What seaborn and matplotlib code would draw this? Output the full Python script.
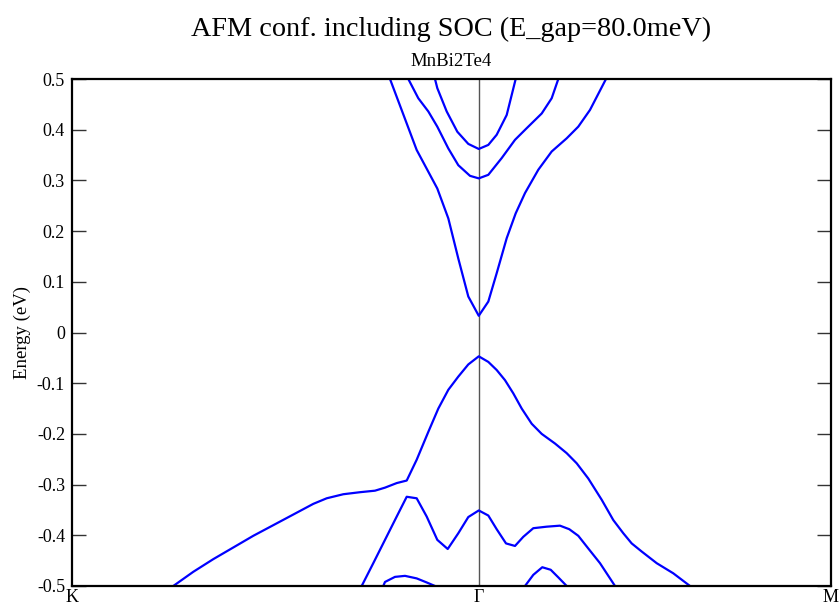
import numpy as np
import pandas as pd
import matplotlib
matplotlib.use("Agg")
import matplotlib.pyplot as plt
import seaborn as sns

# Path K -> Gamma -> M (|GM|/|GK| = sqrt(3)/2)
k_ticks = [0.0, 1.0, 1.866]
k_labels = ["K", "Γ", "M"]

# Conduction bands
c1_k = [0.7818, 0.8474, 0.8981, 0.9252, 0.9497, 0.9743, 1.0, 1.0235, 1.0441, 1.0687,
        1.0908, 1.1137, 1.1464, 1.1793, 1.2162, 1.2447, 1.2735, 1.3128]
c1_e = [0.50, 0.360, 0.284, 0.225, 0.146, 0.071, 0.033, 0.061, 0.117, 0.186,
        0.235, 0.275, 0.321, 0.357, 0.383, 0.406, 0.439, 0.50]

c2_k = [0.8268, 0.8514, 0.8760, 0.8981, 0.9252, 0.9497, 0.9785, 1.0, 1.0235, 1.0564,
        1.0891, 1.1179, 1.1548, 1.1793, 1.1956]
c2_e = [0.50, 0.462, 0.436, 0.406, 0.363, 0.330, 0.309, 0.304, 0.311, 0.344,
        0.380, 0.403, 0.432, 0.462, 0.50]

c3_k = [0.8924, 0.8981, 0.9212, 0.9473, 0.9743, 1.0, 1.0235, 1.0441, 1.0687, 1.0908]
c3_e = [0.50, 0.482, 0.436, 0.396, 0.372, 0.362, 0.370, 0.390, 0.429, 0.50]

# Valence bands
v1_k = [0.2490, 0.2982, 0.3474, 0.3966, 0.4457, 0.4949, 0.5441, 0.5932, 0.6262, 0.6670,
        0.7080, 0.7449, 0.7695, 0.7983, 0.8229, 0.8474, 0.8760, 0.9006, 0.9252, 0.9497,
        0.9743, 1.0, 1.0235, 1.0441, 1.0645, 1.0849, 1.1056, 1.1302, 1.1548, 1.1875,
        1.2162, 1.2408, 1.2693, 1.3023, 1.3308, 1.3554, 1.3760, 1.4006, 1.4375, 1.4783,
        1.5194]
v1_e = [-0.50, -0.472, -0.447, -0.424, -0.401, -0.380, -0.359, -0.338, -0.327, -0.319,
        -0.315, -0.312, -0.306, -0.297, -0.292, -0.251, -0.196, -0.150, -0.113, -0.087,
        -0.063, -0.047, -0.058, -0.074, -0.094, -0.120, -0.150, -0.180, -0.200, -0.219,
        -0.238, -0.258, -0.288, -0.330, -0.370, -0.396, -0.416, -0.432, -0.455, -0.475,
        -0.50]

v2_k = [0.7122, 0.7407, 0.7695, 0.7983, 0.8229, 0.8474, 0.8720, 0.8981, 0.9237, 0.9497,
        0.9743, 1.0, 1.0235, 1.0441, 1.0670, 1.0891, 1.1095, 1.1341, 1.1670, 1.1997,
        1.2226, 1.2447, 1.2693, 1.2981, 1.3350]
v2_e = [-0.50, -0.455, -0.409, -0.363, -0.324, -0.327, -0.363, -0.409, -0.427, -0.396,
        -0.364, -0.351, -0.361, -0.388, -0.416, -0.421, -0.403, -0.386, -0.383, -0.381,
        -0.388, -0.401, -0.426, -0.455, -0.50]

v3_k = [0.7653, 0.7695, 0.7941, 0.8187, 0.8474, 0.8720, 0.8924]
v3_e = [-0.50, -0.492, -0.482, -0.480, -0.485, -0.493, -0.50]

v4_k = [1.1137, 1.1341, 1.1562, 1.1769, 1.1956, 1.2162]
v4_e = [-0.50, -0.478, -0.463, -0.468, -0.483, -0.50]

bands = {"c1": (c1_k, c1_e), "c2": (c2_k, c2_e), "c3": (c3_k, c3_e),
         "v1": (v1_k, v1_e), "v2": (v2_k, v2_e), "v3": (v3_k, v3_e), "v4": (v4_k, v4_e)}
df = pd.concat([pd.DataFrame({"band": name, "k": ks, "E": es})
                for name, (ks, es) in bands.items()], ignore_index=True)

sns.set_style("white")
plt.rcParams["font.family"] = ["Liberation Serif", "DejaVu Serif"]
plt.rcParams.update({"text.color": "black", "axes.labelcolor": "black",
                     "xtick.color": "black", "ytick.color": "black"})

fig = plt.figure(figsize=(8.4, 6.08), dpi=100)
ax_left, ax_w = 72 / 840, 759 / 840
ax = fig.add_axes([ax_left, 22 / 608, ax_w, 507 / 608])

ax.axvline(k_ticks[1], color="#555555", lw=1.0, zorder=1)
sns.lineplot(data=df, x="k", y="E", units="band", estimator=None, sort=False,
             color="#0000ff", lw=1.6, ax=ax, zorder=2)

ax.set_xlim(k_ticks[0], k_ticks[-1])
ax.set_ylim(-0.5, 0.5)
ax.set_xticks(k_ticks)
ax.set_xticklabels(k_labels)
ax.set_yticks(np.round(np.arange(-0.5, 0.51, 0.1), 1))
ax.set_yticklabels(["-0.5", "-0.4", "-0.3", "-0.2", "-0.1", "0", "0.1", "0.2", "0.3", "0.4", "0.5"])
ax.tick_params(axis="x", length=0, pad=2, labelsize=13)
ax.tick_params(axis="y", direction="in", left=True, right=True, length=10, width=1,
               color="#333333", labelsize=13, pad=5)
for sp in ax.spines.values():
    sp.set_linewidth(1.6)
    sp.set_color("black")

ax.set_xlabel("")
ax.set_ylabel("Energy (eV)", fontsize=13.5, labelpad=4)
ax.set_title("MnBi2Te4", fontsize=13.5, pad=9)
fig.suptitle("AFM conf. including SOC (E_gap=80.0meV)", fontsize=20.3,
             x=ax_left + ax_w / 2, y=0.972)

fig.savefig("out.png", dpi=100)
